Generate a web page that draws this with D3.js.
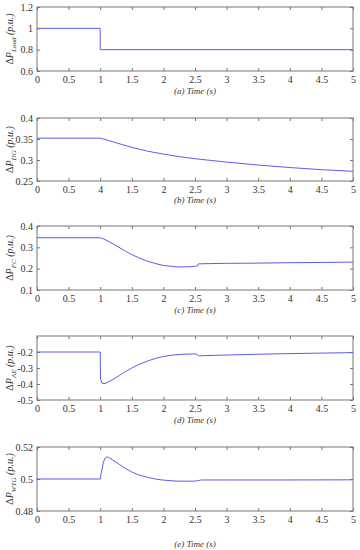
<!DOCTYPE html>
<html>
<head>
<meta charset="utf-8">
<script src="https://cdn.jsdelivr.net/npm/d3@7"></script>
<style>
  body { margin: 0; background: #fff; }
  text { font-family: "Liberation Serif", "DejaVu Serif", serif; fill: #333; }
</style>
</head>
<body>
<div id="container"></div>
<script>
/* DATA */
const xTicks = [0, 0.5, 1, 1.5, 2, 2.5, 3, 3.5, 4, 4.5, 5];
const xLabels = ["0", "0.5", "1", "1.5", "2", "2.5", "3", "3.5", "4", "4.5", "5"];
const xLabelsB = ["0", "0.5", "4", "1.5", "2", "2.5", "3", "3.5", "4", "4.5", "5"];

const loadT = [0, 1, 1, 5];
const loadV = [1, 1, 0.8, 0.8];

const dgT = [0, 1, 1.1, 1.25, 1.5, 1.75, 2, 2.25, 2.5, 2.75, 3, 3.5, 4, 4.5, 5];
const dgV = [0.352, 0.352, 0.348, 0.341, 0.330, 0.321, 0.314, 0.308, 0.303, 0.299, 0.295, 0.288, 0.282, 0.277, 0.273];

const fcT = [0, 1, 1.05, 1.15, 1.25, 1.4, 1.5, 1.65, 1.75, 1.9, 2, 2.15, 2.25, 2.4, 2.5, 2.54, 2.55, 2.6, 3, 3.5, 4, 4.5, 5];
const fcV = [0.345, 0.345, 0.340, 0.325, 0.308, 0.282, 0.266, 0.246, 0.235, 0.222, 0.215, 0.210, 0.208, 0.209, 0.211, 0.213, 0.222, 0.223, 0.225, 0.226, 0.228, 0.229, 0.231];

const aeT = [0, 1, 1.005, 1.03, 1.06, 1.1, 1.2, 1.3, 1.4, 1.5, 1.6, 1.75, 1.9, 2, 2.15, 2.3, 2.5, 2.53, 2.57, 2.6, 3, 3.5, 4, 4.5, 5];
const aeV = [-0.2, -0.2, -0.37, -0.395, -0.398, -0.393, -0.372, -0.347, -0.322, -0.300, -0.280, -0.256, -0.237, -0.228, -0.219, -0.214, -0.212, -0.215, -0.225, -0.223, -0.219, -0.214, -0.210, -0.207, -0.204];

const wtgT = [0, 1, 1.02, 1.05, 1.08, 1.1, 1.13, 1.2, 1.3, 1.4, 1.5, 1.6, 1.75, 1.9, 2, 2.2, 2.4, 2.5, 2.55, 2.6, 3, 4, 5];
const wtgV = [0.5, 0.5, 0.5045, 0.5105, 0.5132, 0.5138, 0.5135, 0.5118, 0.5092, 0.5066, 0.5044, 0.5027, 0.5010, 0.4998, 0.4993, 0.4987, 0.4986, 0.4987, 0.4990, 0.4994, 0.4994, 0.4994, 0.4995];

/* PANELS */
const panels = [
  {t: loadT, v: loadV, dom: [0.6, 1.2], yt: [0.6, 0.8, 1, 1.2], yl: ["0.6", "0.8", "1", "1.2"], sub: "Load", cap: "(a)", xl: xLabels, top: 7, bottom: 71, capY: 94},
  {t: dgT, v: dgV, dom: [0.25, 0.4], yt: [0.25, 0.3, 0.35, 0.4], yl: ["0.25", "0.3", "0.35", "0.4"], sub: "DG", cap: "(b)", xl: xLabelsB, top: 118, bottom: 181, capY: 203},
  {t: fcT, v: fcV, dom: [0.1, 0.4], yt: [0.1, 0.2, 0.3, 0.4], yl: ["0.1", "0.2", "0.3", "0.4"], sub: "FC", cap: "(c)", xl: xLabels, top: 226, bottom: 290, capY: 313},
  {t: aeT, v: aeV, dom: [-0.5, -0.1], yt: [-0.5, -0.4, -0.3, -0.2], yl: ["-0.5", "-0.4", "-0.3", "-0.2"], sub: "AE", cap: "(d)", xl: xLabels, top: 336, bottom: 400, capY: 423},
  {t: wtgT, v: wtgV, dom: [0.48, 0.52], yt: [0.48, 0.5, 0.52], yl: ["0.48", "0.5", "0.52"], sub: "WTG", cap: "(e)", xl: xLabels, top: 447, bottom: 511, capY: 547}
];

const width = 360, height = 550;
const left = 37, right = 353;
const axisColor = "#777", lineColor = "#5c5cf0";

const svg = d3.select("#container")
  .append("svg")
  .attr("width", width)
  .attr("height", height);

const xScale = d3.scaleLinear().domain([0, 5]).range([left, right]);

panels.forEach(p => {
  const yScale = d3.scaleLinear().domain(p.dom).range([p.bottom, p.top]);
  const g = svg.append("g");

  // bottom axis with labels, ticks inside
  const xAxis = d3.axisBottom(xScale)
    .tickValues(xTicks)
    .tickFormat((d, i) => p.xl[i])
    .tickSizeInner(-3).tickSizeOuter(0).tickPadding(5);
  g.append("g").attr("transform", `translate(0,${p.bottom})`).call(xAxis);

  // mirrored top ticks
  g.append("g").attr("transform", `translate(0,${p.top})`)
    .call(d3.axisTop(xScale).tickValues(xTicks).tickFormat("").tickSizeInner(-3).tickSizeOuter(0));

  const yAxis = d3.axisLeft(yScale)
    .tickValues(p.yt)
    .tickFormat((d, i) => p.yl[i])
    .tickSizeInner(-3).tickSizeOuter(0).tickPadding(4);
  g.append("g").attr("transform", `translate(${left},0)`).call(yAxis);

  g.append("g").attr("transform", `translate(${right},0)`)
    .call(d3.axisRight(yScale).tickValues(p.yt).tickFormat("").tickSizeInner(-3).tickSizeOuter(0));

  g.selectAll(".domain").remove();
  g.selectAll(".tick line").attr("stroke", axisColor);
  g.selectAll(".tick text")
    .style("font-family", "'Liberation Serif', serif")
    .attr("font-size", 10)
    .attr("fill", "#333");

  g.append("rect")
    .attr("x", left).attr("y", p.top)
    .attr("width", right - left).attr("height", p.bottom - p.top)
    .attr("fill", "none").attr("stroke", axisColor).attr("stroke-width", 1);

  // series line
  const pts = p.t.map((t, i) => ({t: t, v: p.v[i]}));
  const lineGen = d3.line().x(d => xScale(d.t)).y(d => yScale(d.v));
  g.append("path")
    .datum(pts)
    .attr("fill", "none")
    .attr("stroke", lineColor)
    .attr("stroke-width", 1)
    .attr("d", lineGen);

  // y label
  const mid = (p.top + p.bottom) / 2;
  const yl = g.append("text")
    .attr("transform", `translate(13,${mid}) rotate(-90)`)
    .attr("text-anchor", "middle")
    .attr("font-size", 10);
  yl.append("tspan").text("Δ");
  yl.append("tspan").attr("font-style", "italic").text("P");
  yl.append("tspan").attr("font-style", "italic").attr("font-size", 7).attr("dy", 3).text(p.sub);
  yl.append("tspan").attr("font-style", "italic").attr("dy", -3).text(" (p.u.)");

  // caption
  g.append("text")
    .attr("x", 195).attr("y", p.capY)
    .attr("text-anchor", "middle")
    .attr("font-size", 9)
    .attr("font-style", "italic")
    .text(`${p.cap}  Time (s)`);
});
</script>
</body>
</html>
